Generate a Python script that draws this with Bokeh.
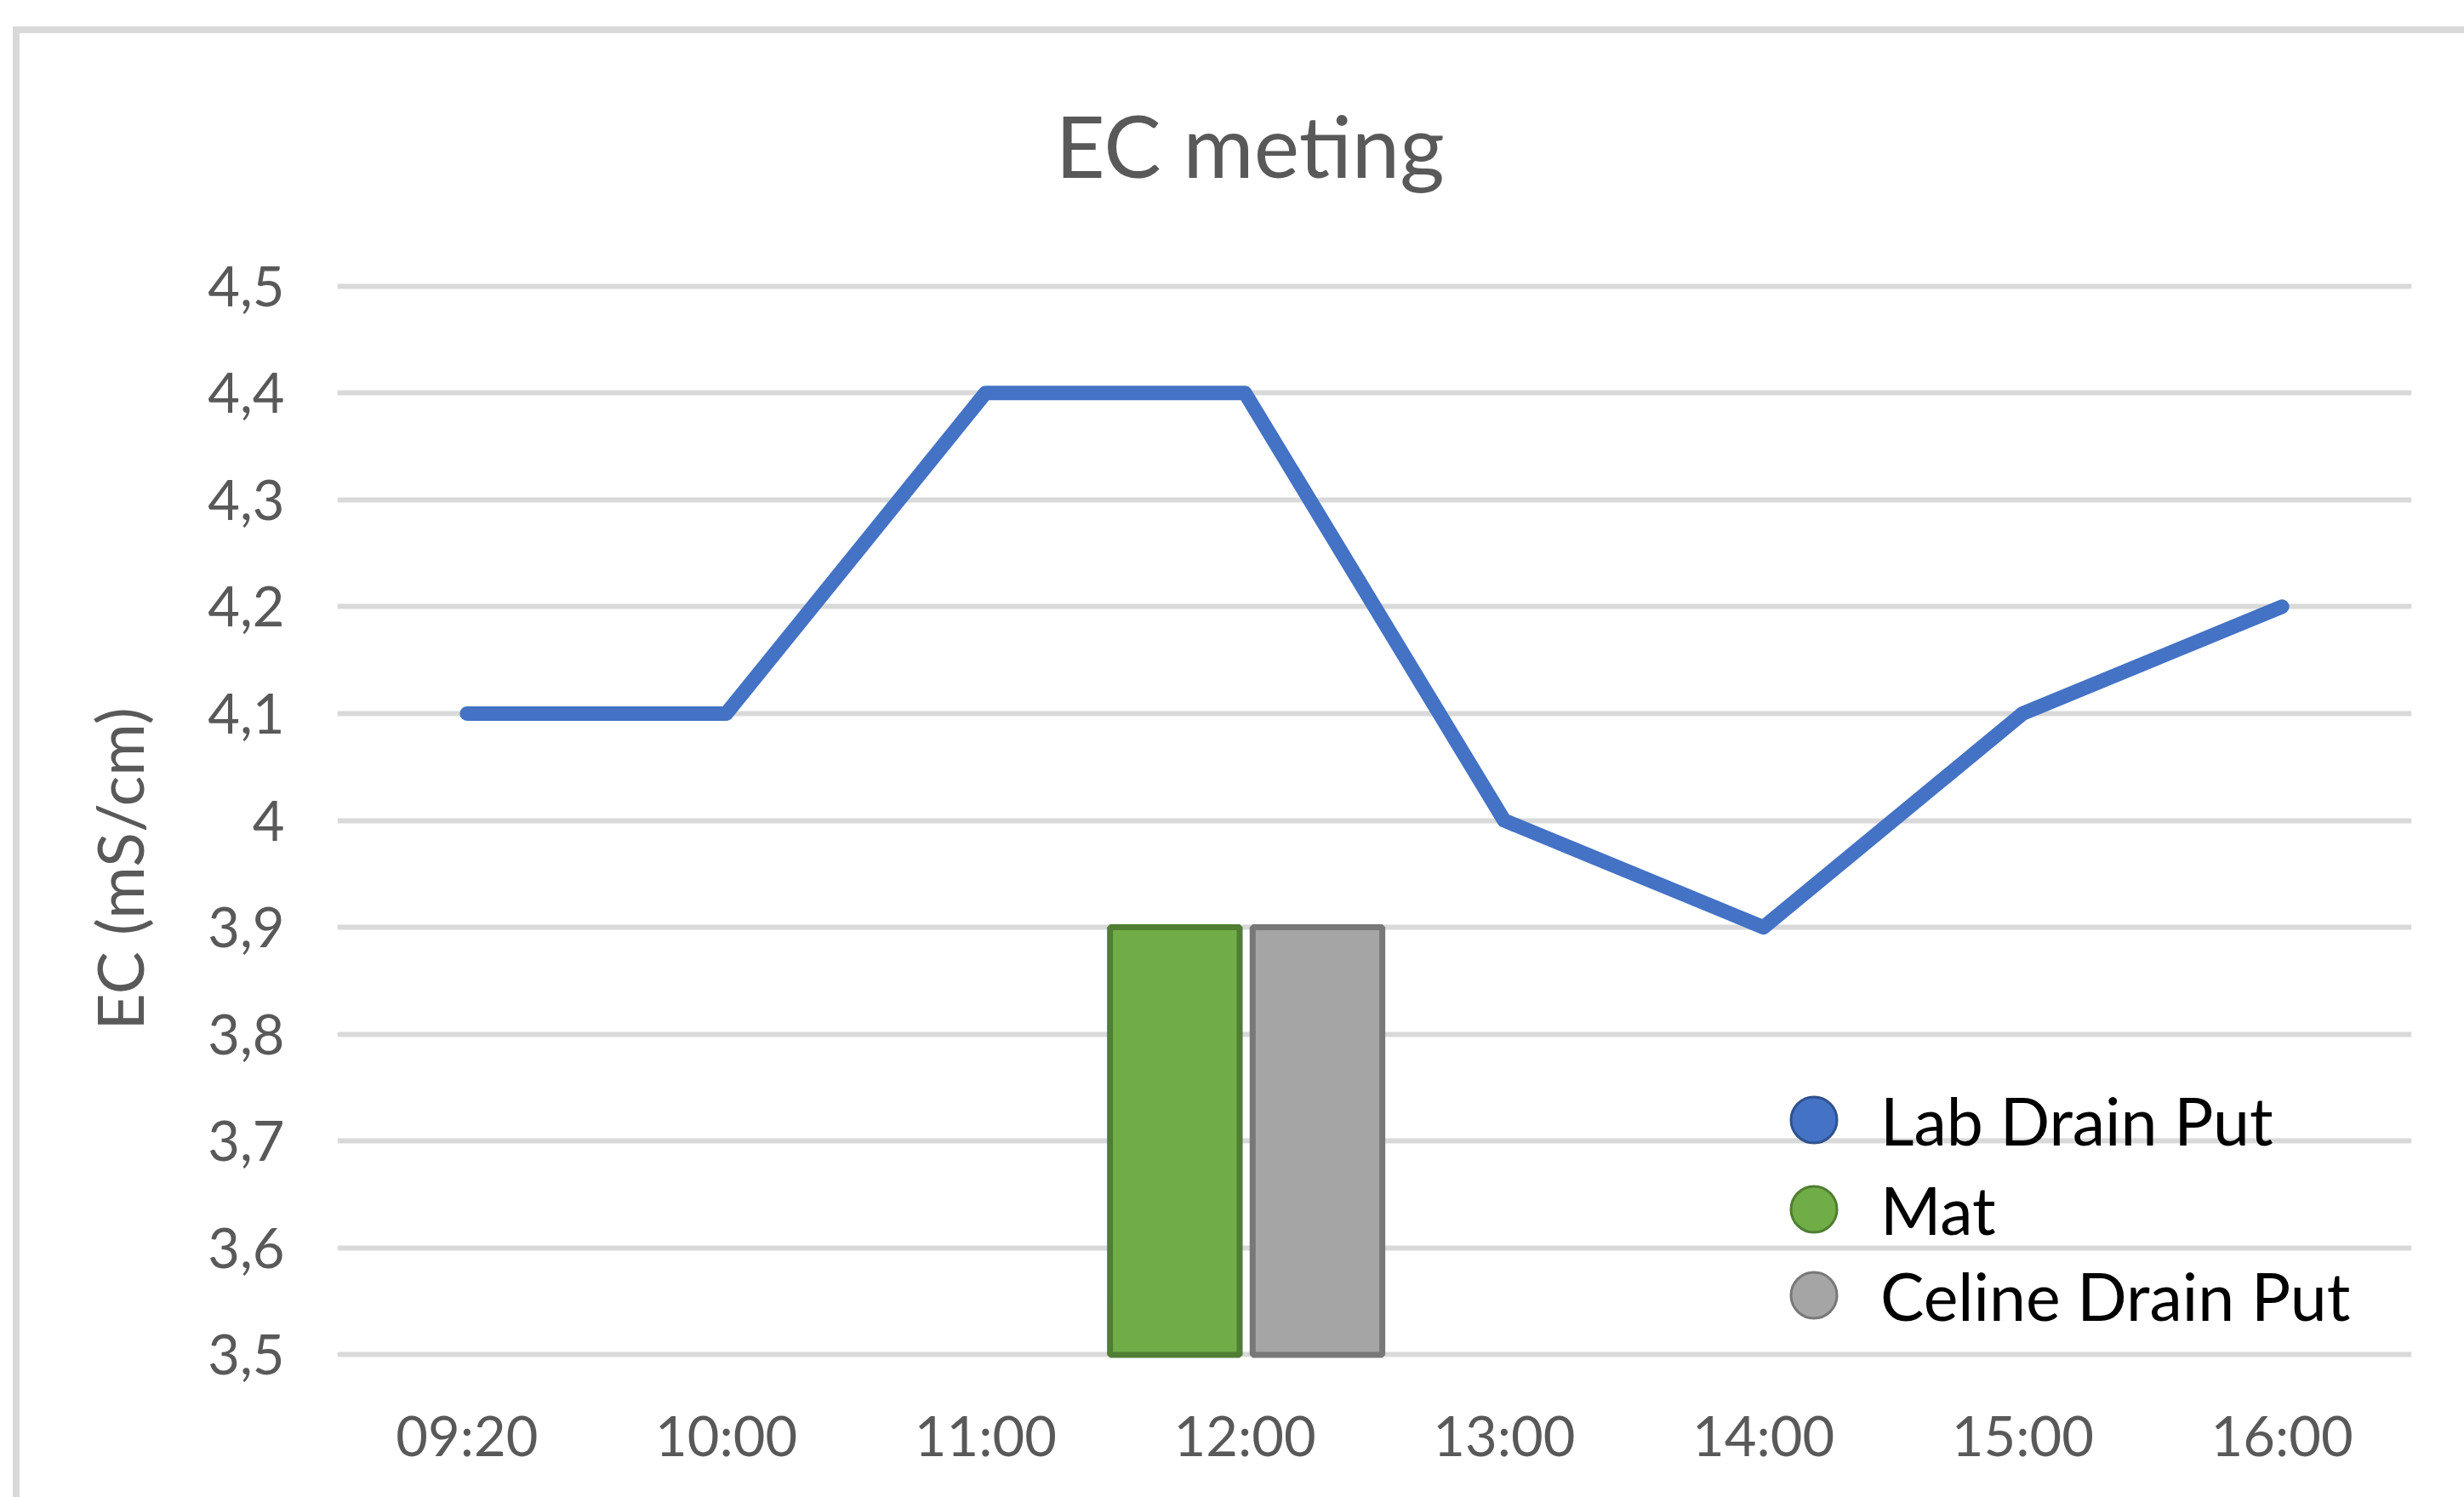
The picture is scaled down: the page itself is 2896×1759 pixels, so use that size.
from bokeh.plotting import figure
from bokeh.models import (FactorRange, Range1d, FixedTicker, Legend, LegendItem,
                          Title, ColumnDataSource)
from bokeh.transform import dodge
from bokeh.embed import file_html
from bokeh.resources import INLINE

# ---------------- data ----------------
times = ["09:20", "10:00", "11:00", "12:00", "13:00", "14:00", "15:00", "16:00"]
lab_drain_put = [4.1, 4.1, 4.4, 4.4, 4.0, 3.9, 4.1, 4.2]
bar_times = ["12:00"]
mat = [3.9]
celine_drain_put = [3.9]
y_ticks = [3.5, 3.6, 3.7, 3.8, 3.9, 4.0, 4.1, 4.2, 4.3, 4.4, 4.5]
y_tick_labels = ["3,5", "3,6", "3,7", "3,8", "3,9", "4", "4,1", "4,2", "4,3", "4,4", "4,5"]
title_text = "EC meting"
y_title = "EC (mS/cm)"
series_names = ["Lab Drain Put", "Mat", "Celine Drain Put"]

FONT = "Lato"
GRAY_TXT = "#595959"

W, H = 2896, 1759
p = figure(width=W, height=H,
           x_range=FactorRange(*times), y_range=Range1d(3.49, 4.51),
           output_backend="svg", toolbar_location=None,
           min_border_left=396, min_border_right=62,
           min_border_top=323, min_border_bottom=155)
p.outline_line_color = None
p.background_fill_color = "white"
p.border_fill_color = None
# chart-area border (only its top and left edges fall inside the picture)
p.styles = {"background-color": "white",
            "box-shadow": "inset 15px 0px 0px 0px white, inset 0px 31px 0px 0px white, "
                          "inset 23px 39px 0px 0px #D9D9D9"}

# title
p.title.text = title_text
p.title.align = "left"
p.title.offset = 844
p.title.vertical_align = "top"
p.title.standoff = 182
p.title.text_font = FONT
p.title.text_font_style = "normal"
p.title.text_font_size = "101px"
p.title.text_color = GRAY_TXT

# grid
p.xgrid.visible = False
tk = FixedTicker(ticks=y_ticks)
p.yaxis.ticker = tk
p.ygrid.ticker = tk
p.ygrid.grid_line_color = "#D9D9D9"
p.ygrid.grid_line_width = 6

# axes
for ax in (p.xaxis, p.yaxis):
    ax.axis_line_color = None
    ax.major_tick_line_color = None
    ax.minor_tick_line_color = None
    ax.major_tick_out = 0
    ax.major_tick_in = 0
    ax.major_label_text_font = FONT
    ax.major_label_text_font_size = "65px"
    ax.major_label_text_color = GRAY_TXT
p.yaxis.major_label_overrides = dict(zip(y_ticks, y_tick_labels))
p.yaxis.major_label_standoff = 62
p.xaxis.major_label_standoff = 42

# y-axis title
p.add_layout(Title(text=y_title, align="left", offset=394, vertical_align="bottom",
                   standoff=114, text_font=FONT, text_font_style="normal",
                   text_font_size="75px", text_color=GRAY_TXT), "left")

# bars
src = ColumnDataSource(dict(x=bar_times, mat=mat, celine=celine_drain_put))
mat_x = dodge("x", -0.27, range=p.x_range)
cel_x = dodge("x", 0.28, range=p.x_range)
p.vbar(x=mat_x, top="mat", bottom=3.5, width=0.5,
       fill_color="#70AD47", line_color="#507E32", line_width=7, source=src)
p.vbar(x=cel_x, top="celine", bottom=3.5, width=0.5,
       fill_color="#A5A5A5", line_color="#787878", line_width=7, source=src)

# line
p.line(x=times, y=lab_drain_put, line_color="#4472C4", line_width=17,
       line_cap="round", line_join="round")

# zero-size markers that only supply the circular legend symbols
r1 = p.scatter(x=times, y=lab_drain_put, marker="circle", size=0,
               fill_color="#4472C4", line_color="#2F528F", line_width=3)
r2 = p.scatter(x=mat_x, y="mat", marker="circle", size=0, source=src,
               fill_color="#70AD47", line_color="#507E32", line_width=3)
r3 = p.scatter(x=cel_x, y="celine", marker="circle", size=0, source=src,
               fill_color="#A5A5A5", line_color="#787878", line_width=3)

legend_y = [221, 116, 15]
for name, r, ly in zip(series_names, (r1, r2, r3), legend_y):
    lg = Legend(items=[LegendItem(label=name, renderers=[r])],
                location=(1668, ly), glyph_width=135, glyph_height=135,
                label_standoff=11, padding=0, margin=0,
                border_line_alpha=0, background_fill_alpha=0,
                label_text_font=FONT, label_text_font_size="77px",
                label_text_color="#000000")
    p.add_layout(lg)

open("out.html", "w").write(file_html(p, INLINE))
